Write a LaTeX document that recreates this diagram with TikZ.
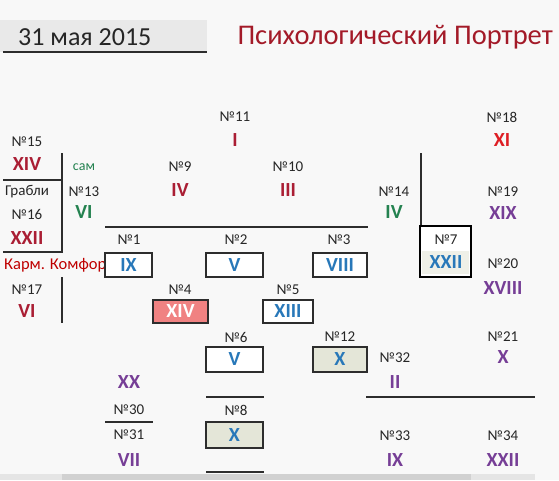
\documentclass[tikz,border=0pt]{standalone}
\usepackage{fontspec}
\setmainfont{Carlito}
\usepackage{tikz}
\usetikzlibrary{positioning, calc}
\definecolor{bgcolor}{RGB}{248, 248, 248}
\definecolor{datecolor}{RGB}{233, 233, 233}
\definecolor{titlecolor}{RGB}{163, 26, 40}
\definecolor{redcolor}{RGB}{170, 30, 52}
\definecolor{brightred}{RGB}{222, 30, 36}
\definecolor{greencolor}{RGB}{36, 130, 80}
\definecolor{bluecolor}{RGB}{40, 120, 185}
\definecolor{purplecolor}{RGB}{118, 62, 150}
\definecolor{pinkcolor}{RGB}{240, 130, 130}
\definecolor{khakicolor}{RGB}{228, 230, 216}
\definecolor{linecolor}{RGB}{45, 45, 45}

\begin{document}
\begin{tikzpicture}[x=1pt, y=-1pt,
    num/.style={inner sep=0pt, font=\fontsize{15}{15}\selectfont, text=black!85},
    rom/.style={inner sep=0pt, font=\fontsize{20}{20}\selectfont\bfseries},
    cell/.style={draw=linecolor, line width=1.3pt, fill=white, inner sep=0pt, font=\fontsize{20}{20}\selectfont\bfseries, text=bluecolor},
    sep/.style={draw=linecolor, line width=1.2pt}
]
% --- background and header ---
\fill[bgcolor] (0,0) rectangle (559,480);
\fill[datecolor] (0,20) rectangle (207,52);
\draw[sep] (3,52) -- (207,52);
\node[anchor=west, inner sep=0pt, font=\fontsize{26}{26}\selectfont, text=black!85] (date) at (18,37) {31 мая 2015};
\node[anchor=east, inner sep=0pt, font=\fontsize{28.5}{28.5}\selectfont, text=titlecolor] (title) at (553,37) {Психологический Портрет};

% --- left column ---
\node[num] (n15) at (27,142) {№15};
\node[rom, text=redcolor] (r15) at (27,164) {XIV};
\node[num] (grabli) at (27,192) {Грабли};
\node[num] (n16) at (27,214) {№16};
\node[rom, text=redcolor] (r16) at (27,238) {XXII};
\node[inner sep=0pt, anchor=west, font=\fontsize{16.5}{16.5}\selectfont, text=red!75!black] (karm) at (4,265) {Карм. Комфорт};
\node[num] (n17) at (27,290) {№17};
\node[rom, text=redcolor] (r17) at (27,311) {VI};
\node[inner sep=0pt, font=\fontsize{14}{14}\selectfont, text=greencolor] (sam) at (84,167) {сам};
\node[num] (n13) at (84,192) {№13};
\node[rom, text=greencolor] (r13) at (84,212) {VI};
\draw[sep] (3,180) -- (62,180);
\draw[sep] (62,153) -- (62,252) -- (3,252);
\draw[sep] (62,277) -- (62,323);

% --- top rows ---
\node[num] (n11) at (235,117) {№11};
\node[rom, text=redcolor] (r11) at (235,140) {I};
\node[num] (n9) at (180,167) {№9};
\node[rom, text=redcolor] (r9) at (180,190) {IV};
\node[num] (n10) at (288,167) {№10};
\node[rom, text=redcolor] (r10) at (288,190) {III};
\node[num] (n14) at (394,192) {№14};
\node[rom, text=greencolor] (r14) at (394,212) {IV};
\draw[sep] (105,227) -- (368,227);
\draw[sep] (421,153) -- (421,226);

% --- boxed cells ---
\node[num] (n1) at (129,240) {№1};
\node[cell, minimum width=47pt, minimum height=24pt] (c1) at (128.5,265) {IX};
\node[num] (n2) at (236,240) {№2};
\node[cell, minimum width=57pt, minimum height=24pt] (c2) at (234.5,265) {V};
\node[num] (n3) at (339,240) {№3};
\node[cell, minimum width=54pt, minimum height=24pt] (c3) at (340,265) {VIII};
\node[num] (n4) at (180,290) {№4};
\node[cell, fill=pinkcolor, text=white, minimum width=55pt, minimum height=23pt] (c4) at (180.5,311.5) {XIV};
\node[num] (n5) at (288,290) {№5};
\node[cell, minimum width=50pt, minimum height=23pt] (c5) at (288,311.5) {XIII};
\node[num] (n6) at (236,337) {№6};
\node[cell, minimum width=57pt, minimum height=25pt] (c6) at (234.5,359.5) {V};
\node[num] (n12) at (340,337) {№12};
\node[cell, fill=khakicolor, minimum width=54pt, minimum height=25pt] (c12) at (340,359.5) {X};
\node[num] (n8) at (236,410) {№8};
\node[cell, fill=khakicolor, minimum width=57pt, minimum height=26pt] (c8) at (234.5,435) {X};
\draw[sep] (206,397) -- (264,397);

% --- cell 7 ---
\node[draw=black, line width=2.2pt, fill=white, minimum width=51pt, minimum height=51pt] (c7) at (445.5,251.5) {};
\fill[khakicolor!60!white] ($(c7.south west)+(3,-4)$) rectangle ($(c7.south east)+(-3,-27)$);
\node[num] (n7) at (446,240) {№7};
\node[rom, text=bluecolor] (r7) at (446,262) {XXII};

% --- right column ---
\node[num] (n18) at (502,117) {№18};
\node[rom, text=brightred] (r18) at (502,140) {XI};
\node[num] (n19) at (503,192) {№19};
\node[rom, text=purplecolor] (r19) at (503,213) {XIX};
\node[num] (n20) at (503,264) {№20};
\node[rom, text=purplecolor] (r20) at (503,288) {XVIII};
\node[num] (n21) at (503,337) {№21};
\node[rom, text=purplecolor] (r21) at (503,357) {X};
\node[num] (n32) at (395,358) {№32};
\node[rom, text=purplecolor] (r32) at (395,382) {II};
\draw[sep] (366,397) -- (535,397);
\node[num] (n33) at (395,436) {№33};
\node[rom, text=purplecolor] (r33) at (395,460) {IX};
\node[num] (n34) at (503,436) {№34};
\node[rom, text=purplecolor] (r34) at (503,460) {XXII};

% --- bottom left ---
\node[rom, text=purplecolor] (r20x) at (129,382) {XX};
\node[num] (n30) at (129,410) {№30};
\draw[sep] (105,422) -- (153,422);
\node[num] (n31) at (129,435) {№31};
\node[rom, text=purplecolor] (r31) at (129,460) {VII};

% --- bottom bar ---
\fill[black!10] (0,474) rectangle (535,480);
\fill[black!18] (62,474) rectangle (471,480);
\draw[sep] (206,472) -- (264,472);
\end{tikzpicture}
\end{document}
